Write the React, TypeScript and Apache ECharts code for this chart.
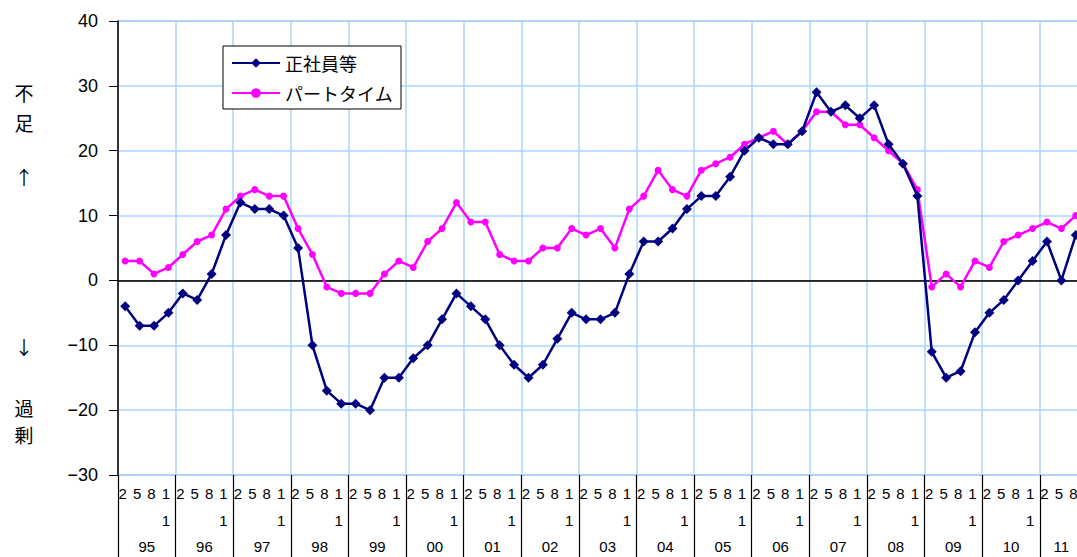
import React, { useEffect, useRef } from "react";
import * as echarts from "echarts";

// Survey periods: 1995–2011, months 2 / 5 / 8 / 11 of each year
const yearLabels = ["95", "96", "97", "98", "99", "00", "01", "02", "03", "04", "05", "06", "07", "08", "09", "10", "11"];
const monthLabels = ["2", "5", "8", "11"];
const lastYearMonths = ["2", "5", "8"];

// Labour shortage/surplus DI (shortage minus surplus, %)
const regularStaff = [
  -4, -7, -7, -5,
  -2, -3, 1, 7,
  12, 11, 11, 10,
  5, -10, -17, -19,
  -19, -20, -15, -15,
  -12, -10, -6, -2,
  -4, -6, -10, -13,
  -15, -13, -9, -5,
  -6, -6, -5, 1,
  6, 6, 8, 11,
  13, 13, 16, 20,
  22, 21, 21, 23,
  29, 26, 27, 25,
  27, 21, 18, 13,
  -11, -15, -14, -8,
  -5, -3, 0, 3,
  6, 0, 7,
];
const partTime = [
  3, 3, 1, 2,
  4, 6, 7, 11,
  13, 14, 13, 13,
  8, 4, -1, -2,
  -2, -2, 1, 3,
  2, 6, 8, 12,
  9, 9, 4, 3,
  3, 5, 5, 8,
  7, 8, 5, 11,
  13, 17, 14, 13,
  17, 18, 19, 21,
  22, 23, 21, 23,
  26, 26, 24, 24,
  22, 20, 18, 14,
  -1, 1, -1, 3,
  2, 6, 7, 8,
  9, 8, 10,
];
const yTicks = { min: -30, max: 40, step: 10 };

const FONT = "'Liberation Sans', 'Noto Sans CJK JP', sans-serif";
const CJK = "'Noto Sans CJK JP', sans-serif";

export default function App() {
  const ref = useRef<HTMLDivElement>(null);

  useEffect(() => {
    if (!ref.current) return;
    const chart = echarts.init(ref.current, undefined, { renderer: "svg" });

    const periods: { year: string; month: string }[] = [];
    yearLabels.forEach((y, i) => {
      const ms = i === yearLabels.length - 1 ? lastYearMonths : monthLabels;
      ms.forEach((m) => periods.push({ year: y, month: m }));
    });
    const categories = periods.map((p) => `${p.year}/${p.month}`);
    const n = categories.length;

    // year group boundaries and centres, in quarter units
    const yearStarts: number[] = [];
    const yearCentres: number[] = [];
    let acc = 0;
    yearLabels.forEach((_, i) => {
      const len = i === yearLabels.length - 1 ? lastYearMonths.length : monthLabels.length;
      yearStarts.push(acc);
      yearCentres.push(acc + len / 2);
      acc += len;
    });

    const sideText = (t: string, y: number) => ({
      type: "text",
      x: 24,
      y,
      style: { text: t, fontSize: 19, fontFamily: CJK, fill: "#000", align: "center", verticalAlign: "middle" },
    });

    chart.setOption({
      animation: false,
      backgroundColor: "#fff",
      grid: { left: 118, top: 21, right: 17, bottom: 82, show: true, borderColor: "#999", borderWidth: 1 },
      legend: {
        orient: "vertical",
        left: 223,
        top: 46,
        backgroundColor: "#fff",
        borderColor: "#000",
        borderWidth: 1,
        padding: [8, 8, 7, 8],
        itemGap: 12,
        itemWidth: 48,
        itemHeight: 12,
        textStyle: { fontSize: 18, fontFamily: CJK, color: "#000" },
        data: ["正社員等", "パートタイム"],
      },
      xAxis: [
        {
          type: "category",
          data: categories,
          boundaryGap: true,
          axisLine: { show: true, lineStyle: { color: "#999", width: 1 } },
          axisTick: { show: false },
          axisLabel: {
            interval: 0,
            margin: 5,
            fontSize: 15,
            lineHeight: 27,
            padding: [0, 5, 0, 0],
            fontFamily: FONT,
            color: "#000",
            formatter: (v: string) => {
              const m = v.split("/")[1];
              return m.split("").join("\n");
            },
          },
          splitLine: {
            show: true,
            interval: (idx: number) => idx % 4 === 0,
            lineStyle: { color: "#a8d4ff", width: 1.5 },
          },
        },
        {
          type: "value",
          position: "bottom",
          min: 0,
          max: n,
          axisLine: { show: false },
          splitLine: { show: false },
          axisTick: {
            show: true,
            inside: false,
            length: 82,
            customValues: yearStarts,
            lineStyle: { color: "#000", width: 1.2 },
          },
          axisLabel: {
            show: true,
            margin: 64,
            fontSize: 15,
            fontFamily: FONT,
            color: "#000",
            customValues: yearCentres,
            formatter: (v: number) => {
              const i = yearCentres.findIndex((c) => Math.abs(c - v) < 1e-6);
              return i >= 0 ? yearLabels[i] : "";
            },
          },
        },
      ],
      yAxis: {
        type: "value",
        min: yTicks.min,
        max: yTicks.max,
        interval: yTicks.step,
        axisLine: { show: true, lineStyle: { color: "#000", width: 1.5 } },
        axisTick: { show: true, inside: false, length: 9, lineStyle: { color: "#000", width: 1 } },
        axisLabel: {
          margin: 20,
          fontSize: 18,
          fontFamily: FONT,
          color: "#000",
          formatter: (v: number) => String(v).replace("-", "−"),
        },
        splitLine: { show: true, lineStyle: { color: "#a8d4ff", width: 1.5 } },
      },
      series: [
        {
          name: "正社員等",
          type: "line",
          xAxisIndex: 0,
          data: regularStaff,
          symbol: "diamond",
          symbolSize: 10,
          lineStyle: { color: "#000080", width: 2.5 },
          itemStyle: { color: "#000080" },
          z: 3,
          markLine: {
            silent: true,
            symbol: ["none", "none"],
            label: { show: false },
            lineStyle: { color: "#000", type: "solid", width: 1.5 },
            data: [{ yAxis: 0 }],
            z: 1,
          },
        },
        {
          name: "パートタイム",
          type: "line",
          xAxisIndex: 0,
          data: partTime,
          symbol: "circle",
          symbolSize: 7,
          lineStyle: { color: "#ff00ff", width: 2.5 },
          itemStyle: { color: "#ff00ff" },
          z: 2,
        },
      ],
      graphic: [
        sideText("不", 92),
        sideText("足", 122),
        sideText("↑", 176),
        sideText("↓", 346),
        sideText("過", 407),
        sideText("剰", 434),
      ],
    });

    return () => chart.dispose();
  }, []);

  return (
    <div style={{ position: "fixed", left: 0, top: 0, width: 1077, height: 557, overflow: "hidden", background: "#fff" }}>
      <div ref={ref} style={{ width: 1100, height: 557 }} />
    </div>
  );
}
